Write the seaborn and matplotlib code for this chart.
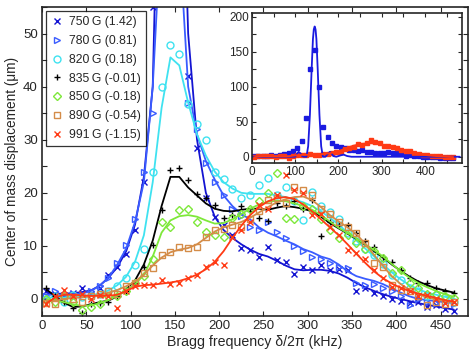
import numpy as np
import pandas as pd
import matplotlib
matplotlib.use("Agg")
import matplotlib.pyplot as plt
import seaborn as sns
from matplotlib.ticker import MultipleLocator

sns.set_style("ticks")
plt.rcParams['font.family'] = ['Liberation Sans', 'DejaVu Sans']

# Bragg frequency grid (kHz)
freq = [5, 15, 25, 35, 45, 55, 65, 75, 85, 95, 105, 115, 125, 135, 145, 155,
        165, 175, 185, 195, 205, 215, 225, 235, 245, 255, 265, 275, 285, 295,
        305, 315, 325, 335, 345, 355, 365, 375, 385, 395, 405, 415, 425, 435,
        445, 455, 465]

labels = ["750\u2009G (1.42)", "780\u2009G (0.81)", "820\u2009G (0.18)",
          "835\u2009G (-0.01)", "850\u2009G (-0.18)", "890\u2009G (-0.54)",
          "991\u2009G (-1.15)"]
colors = ["#1414d2", "#3a5cff", "#3fe2f0", "#000000", "#7ee83a", "#d48c48", "#ff3a14"]
markers = ["x", ">", "o", "+", "D", "s", "x"]

# measured center of mass displacement (um)
m750 = [1.5, 1.0, 0.8, 1.2, 2.0, 1.0, 2.0, 4.5, 6.0, 8.5, 13, 22, 55, 125, 152, 100,
        42, 28.5, 19, 15.5, 14, 12, 9.6, 9.2, 7.9, 9.8, 7.4, 7.0, 4.7, 6.0, 5.5, 6.4,
        5.5, 5.7, 5.5, 1.5, 2.0, 1.1, 0.5, 0.0, -0.3, -0.8, -0.5, -1.5, -1.2, -1.8, -2.2]
m780 = [0.5, 1.5, 0.5, 1.0, 0.8, 1.5, 2.5, 4.0, 6.8, 10.2, 15, 24, 35, 60, 75, 62,
        37, 32, 25.6, 22, 19.6, 17, 15.7, 13.5, 13, 14.5, 12.6, 11.5, 10, 9.0, 8.0, 7.5,
        6.8, 6.0, 5.8, 3.0, 2.6, 2.8, 2.0, 1.5, 0.5, -1.1, 0.0, -0.5, -0.8, -0.5, -1.0]
m820 = [0.0, 0.5, -0.5, 0.8, 0.3, 0.5, 1.0, 1.5, 2.5, 4.0, 6.4, 9.5, 24, 40, 47.9, 46.2,
        36.8, 33, 30, 24, 22.6, 20.7, 19.0, 19.6, 21.5, 22.8, 19.6, 21.0, 18.5, 14.9, 20.2, 17.5,
        16.4, 15.0, 12.5, 11.0, 9.5, 8.3, 6.5, 4.5, 3.5, 2.0, 1.5, 0.5, 0.8, 0.0, -0.6]
m835 = [2.0, 0.5, -0.5, -1.7, -2.7, -1.0, -0.8, -0.5, 0.5, 1.5, 3.0, 6.0, 10.2, 16.8, 24.3, 24.7,
        22.5, 19.8, 19, 17.7, 15.3, 15.8, 17.5, 16.5, 15.2, 14.7, 18.0, 17.5, 18.5, 17.0, 18.7, 11.9,
        14.5, 14.0, 14.0, 12.5, 11.0, 9.8, 8.0, 7.0, 5.5, 4.0, 3.0, 3.0, 2.0, 1.5, 1.1]
m850 = [0.0, -0.5, 0.5, -0.5, -2.0, -1.5, -1.0, 0.5, 0.5, 1.5, 3.0, 4.3, 7.5, 14.5, 13.6, 16.8,
        17.0, 14.5, 12.6, 12.0, 11.7, 15.3, 16.0, 17.0, 18.5, 20.0, 23.7, 15.3, 15.0, 17.5, 17.0, 15.0,
        13.0, 11.5, 12.0, 10.5, 9.5, 9.0, 7.7, 4.9, 5.5, 3.0, 2.0, 1.0, 1.0, 0.5, 0.2]
m890 = [-0.8, -1.0, 0.5, 0.0, -0.5, 0.5, 1.0, 1.5, 1.0, 2.5, 3.0, 4.9, 5.8, 8.3, 8.9, 9.8,
        9.6, 9.8, 11.7, 13.0, 13.2, 14.0, 13.5, 15.0, 16.5, 18.7, 19.0, 18.0, 21.1, 20.5, 19.5, 17.0,
        16.0, 14.5, 13.6, 12.5, 10.5, 6.8, 6.0, 2.6, 1.7, 1.5, 0.5, -1.1, -0.5, -1.0, -0.6]
m991 = [-1.0, 0.5, 1.7, 0.5, 1.0, 0.0, 0.8, 0.5, -1.7, 1.5, 2.5, 2.6, 2.6, 3.6, 2.8, 3.0,
        4.0, 4.5, 6.0, 7.0, 6.4, 11.7, 13.0, 14.5, 17.7, 17.0, 19.5, 23.4, 20.5, 20.0, 15.8, 16.0,
        13.5, 12.0, 9.2, 8.6, 7.5, 5.5, 4.0, 2.3, 2.0, 1.5, 0.5, 0.8, 0.0, -0.8, -0.5]

# smoothed curves
s750 = [1.2, 1.0, 1.0, 1.1, 1.3, 1.6, 2.5, 4.0, 6.0, 9.0, 14, 23, 40, 110, 150, 105,
        50, 30, 20, 15.5, 13, 11.5, 10.3, 9.3, 8.5, 8.0, 7.2, 6.3, 5.6, 5.4, 5.5, 5.5,
        5.3, 4.8, 4.0, 3.0, 2.2, 1.5, 0.9, 0.4, 0.0, -0.4, -0.8, -1.1, -1.4, -1.7, -2.0]
s780 = [0.8, 0.8, 0.8, 0.9, 1.0, 1.5, 2.5, 4.0, 6.5, 9.5, 14.5, 22, 40, 72, 85, 68,
        40, 31, 26, 22.5, 19.5, 17.5, 16, 15, 13.5, 12.5, 11.8, 11, 10.3, 9.4, 8.8, 8.0,
        7.5, 6.5, 5.2, 4.3, 3.8, 3.4, 2.8, 2.0, 1.2, 0.5, 0.0, -0.2, -0.4, -0.6, -0.8]
s820 = [0.3, 0.3, 0.3, 0.4, 0.5, 0.7, 1.0, 1.6, 2.6, 4.2, 7.0, 12, 22, 36, 45.5, 44,
        37, 31, 27, 24, 22, 20.8, 20, 19.8, 19.8, 19.8, 19.5, 19.2, 18.7, 18.2, 17.5, 16.5,
        15.3, 14.0, 12.5, 11.0, 9.5, 8.0, 6.5, 5.0, 3.7, 2.6, 1.8, 1.2, 0.8, 0.4, 0.1]
s835 = [1.8, 0.5, -0.7, -1.5, -1.4, -1.0, -0.6, -0.3, 0.5, 1.8, 3.5, 6.5, 11, 17.5, 23, 23,
        21, 19.5, 18, 17, 16.6, 16.5, 16.8, 17, 17, 16.8, 17.2, 17.5, 17.3, 17.0, 16.5, 15.5,
        14.3, 13.3, 12.3, 11.3, 10.2, 9.0, 7.8, 6.5, 5.3, 4.2, 3.3, 2.6, 2.0, 1.6, 1.2]
s850 = [0.0, -0.3, -0.6, -1.0, -1.3, -1.2, -0.8, -0.2, 0.6, 1.6, 2.8, 4.5, 8.0, 12.5, 14.8, 15.6,
        15.8, 15.5, 14.8, 14.2, 14.3, 15.0, 16.0, 17.0, 17.8, 18.3, 18.5, 18.4, 18.0, 17.5, 16.8, 15.8,
        14.6, 13.4, 12.4, 11.4, 10.3, 9.2, 8.0, 6.6, 5.2, 4.0, 3.0, 2.2, 1.5, 0.9, 0.4]
s890 = [-0.5, -0.3, 0.0, 0.2, 0.3, 0.5, 0.8, 1.2, 1.7, 2.4, 3.3, 4.6, 6.3, 7.8, 8.8, 9.3,
        9.6, 10.3, 11.5, 12.7, 13.5, 14.0, 14.5, 15.3, 16.3, 17.3, 18.2, 18.8, 19.2, 19.3, 18.6, 17.3,
        15.8, 14.6, 13.5, 12.2, 10.4, 8.3, 6.2, 4.3, 2.8, 1.7, 0.9, 0.3, -0.1, -0.4, -0.6]
s991 = [-0.8, 0.3, 0.8, 0.8, 0.7, 0.6, 0.6, 0.6, 0.8, 1.5, 2.3, 2.6, 2.7, 2.9, 3.1, 3.4,
        3.9, 4.6, 5.6, 7.0, 9.0, 11.5, 13.8, 15.8, 17.3, 18.4, 19.0, 19.2, 18.8, 17.8, 16.5, 15.0,
        13.5, 12.0, 10.3, 8.5, 6.8, 5.2, 3.9, 2.9, 2.1, 1.5, 1.0, 0.6, 0.2, -0.2, -0.5]

# theory curve for 750 G (inset)
theory_f = [0, 60, 95, 100, 104, 108, 112, 116, 120, 126, 130, 134, 138, 141, 143, 145,
            147, 149, 152, 156, 160, 164, 170, 175, 180, 184, 188, 195, 205, 212, 220, 230, 480]
theory_v = [0, 0, 0, 0, 4, 7, 5, 1, 0, 0, 15, 60, 125, 168, 182, 186,
            182, 168, 125, 60, 15, 0, 0, 4, 7, 5, 1, 0, 2, 3, 1, 0, 0]

meas = [m750, m780, m820, m835, m850, m890, m991]
smooth = [s750, s780, s820, s835, s850, s890, s991]

fig = plt.figure(figsize=(4.69, 3.56), dpi=100)
ax = fig.add_axes([0.0896, 0.1124, 0.9083, 0.868])

for lab, col, mk, m, s in zip(labels, colors, markers, meas, smooth):
    df = pd.DataFrame({"f": freq, "m": m, "s": s})
    sns.lineplot(data=df, x="f", y="s", color=col, lw=1.3, ax=ax, legend=False)
    filled = mk in ("x", "+")
    ax.plot(df["f"], df["m"], ls="none", marker=mk, ms=5 if mk != "D" else 4.5,
            mew=1.0, color=col, mfc=col if filled else "none", label=lab)

ax.set_xlim(0, 481)
ax.set_ylim(-3.2, 55)
ax.xaxis.set_major_locator(MultipleLocator(50))
ax.yaxis.set_major_locator(MultipleLocator(10))
ax.yaxis.set_minor_locator(MultipleLocator(5))
ax.tick_params(which="both", direction="in", top=True, right=True, labelsize=9.5,
               length=3.5, width=0.8, pad=3)
ax.set_xlabel("Bragg frequency \u03b4/2\u03c0 (kHz)", fontsize=10.2, labelpad=2)
ax.set_ylabel("Center of mass displacement (\u03bcm)", fontsize=9.8, labelpad=3)
for sp in ax.spines.values():
    sp.set_linewidth(1.2)

leg = ax.legend(loc="upper left", bbox_to_anchor=(0.004, 0.995), fontsize=8.8,
                frameon=True, fancybox=False, edgecolor="black", handlelength=0.8,
                handletextpad=0.6, borderpad=0.45, labelspacing=0.55, borderaxespad=0.2)
leg.get_frame().set_linewidth(0.9)

# inset
ins = fig.add_axes([0.537, 0.542, 0.448, 0.421])
ins.plot(freq, m750, ls="none", marker="s", ms=2.2, color="#1a1ae0")
ins.plot(freq, m991, ls="none", marker="s", ms=2.2, color="#ff3a14")
sns.lineplot(x=theory_f, y=theory_v, color="#1a1ae0", lw=1.3, ax=ins)
sns.lineplot(x=freq, y=s991, color="#ff3a14", lw=1.3, ax=ins)
ins.set_xlim(0, 485)
ins.set_ylim(-9, 205)
ins.xaxis.set_major_locator(MultipleLocator(100))
ins.xaxis.set_minor_locator(MultipleLocator(50))
ins.yaxis.set_major_locator(MultipleLocator(50))
ins.yaxis.set_minor_locator(MultipleLocator(25))
ins.tick_params(which="both", direction="in", top=True, right=True, labelsize=8.5,
                length=3, width=0.8, pad=2)
for sp in ins.spines.values():
    sp.set_linewidth(1.2)

fig.savefig("out.png", dpi=100)
